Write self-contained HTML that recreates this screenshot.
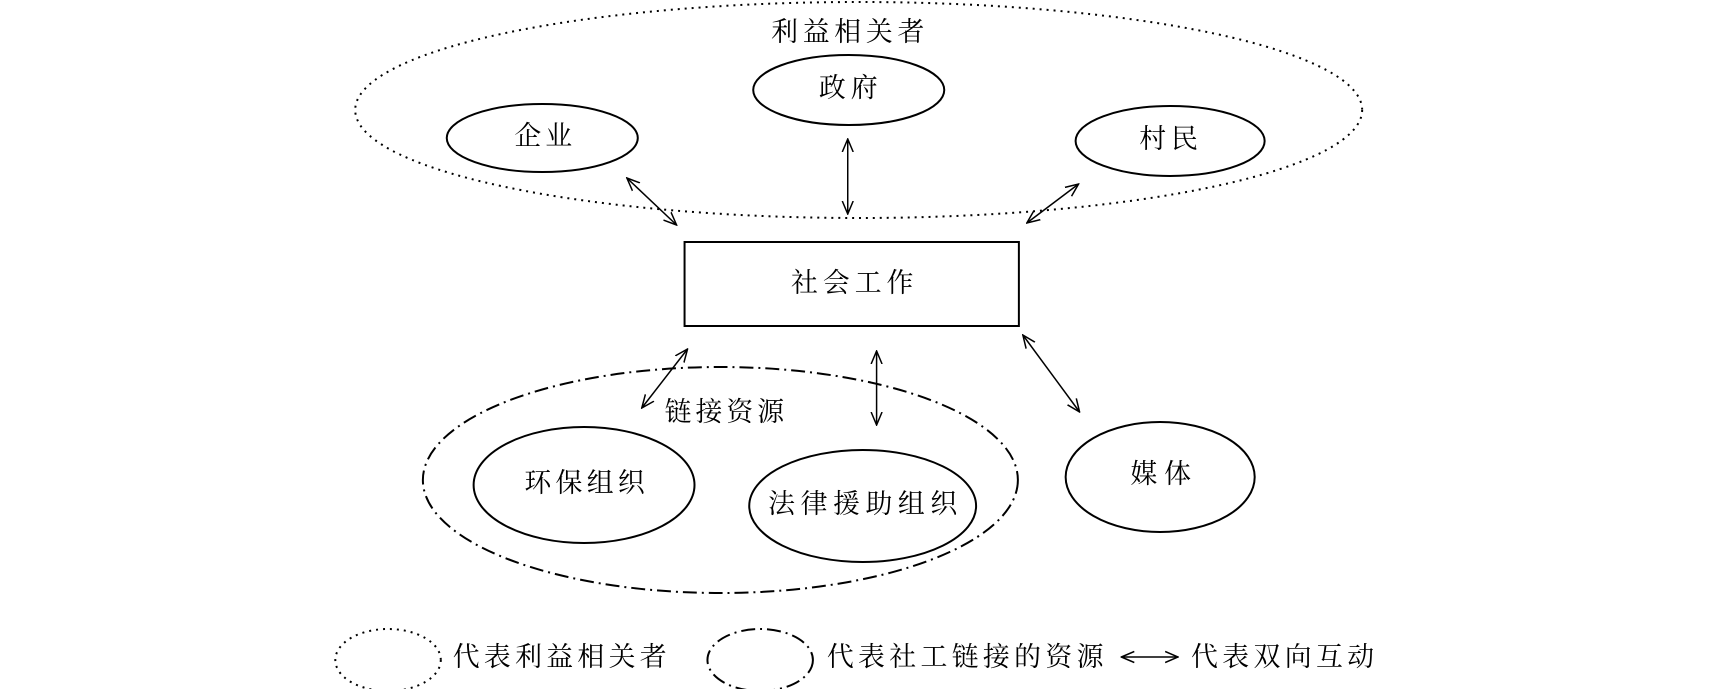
<!DOCTYPE html>
<html><head><meta charset="utf-8"><style>
html,body{margin:0;padding:0;background:#fff;}
svg{display:block;}
text{font-family:"Liberation Serif","Noto Serif CJK SC",serif;font-size:27px;fill:#000;dominant-baseline:central;}
</style></head><body>
<svg width="1713" height="689" viewBox="0 0 1713 689" xmlns="http://www.w3.org/2000/svg">
<defs>
<marker id="a" viewBox="0 0 14 14" refX="13" refY="7" markerWidth="14" markerHeight="14" markerUnits="userSpaceOnUse" orient="auto-start-reverse">
<path d="M0,1.5 L13,7 L0,12.5" fill="none" stroke="#000" stroke-width="1.5"/>
</marker>
</defs>
<g transform="scale(0.995,1)">
<g fill="none" stroke="#000" stroke-width="2">
<ellipse cx="863" cy="110" rx="506" ry="108" stroke-dasharray="2,5"/>
<ellipse cx="853" cy="90" rx="96" ry="35"/>
<ellipse cx="545" cy="138" rx="96" ry="34"/>
<ellipse cx="1176" cy="141" rx="95" ry="35"/>
<rect x="688" y="242" width="336" height="84"/>
<ellipse cx="724" cy="480" rx="299" ry="113" stroke-dasharray="14,5,2,5"/>
<ellipse cx="587" cy="485" rx="111" ry="58"/>
<ellipse cx="867" cy="506" rx="114" ry="56"/>
<ellipse cx="1166" cy="477" rx="95" ry="55"/>
<ellipse cx="390" cy="660" rx="53" ry="31" stroke-dasharray="2,5"/>
<ellipse cx="764" cy="660" rx="53" ry="31" stroke-dasharray="14,5,2,5"/>
</g>
<g stroke="#000" stroke-width="1.5" marker-start="url(#a)" marker-end="url(#a)">
<line x1="630" y1="178" x2="680" y2="225"/>
<line x1="852" y1="139" x2="852" y2="214"/>
<line x1="1084" y1="184" x2="1032" y2="223"/>
<line x1="691" y1="349" x2="645" y2="408"/>
<line x1="881" y1="351" x2="881" y2="425"/>
<line x1="1028" y1="335" x2="1085" y2="412"/>
<line x1="1127" y1="657" x2="1184" y2="657"/>
</g>
<text x="775" y="32" textLength="154">利益相关者</text>
<text x="823" y="88" textLength="59">政府</text>
<text x="517" y="136" textLength="58">企业</text>
<text x="1145" y="139" textLength="59">村民</text>
<text x="795" y="283" textLength="123">社会工作</text>
<text x="668" y="412" textLength="120">链接资源</text>
<text x="527" y="483" textLength="121">环保组织</text>
<text x="772" y="504" textLength="190">法律援助组织</text>
<text x="1136" y="474" textLength="61">媒体</text>
<text x="455" y="657" textLength="215">代表利益相关者</text>
<text x="831" y="657" textLength="278">代表社工链接的资源</text>
<text x="1197" y="657" textLength="184">代表双向互动</text>
</g>
</svg>
</body></html>
